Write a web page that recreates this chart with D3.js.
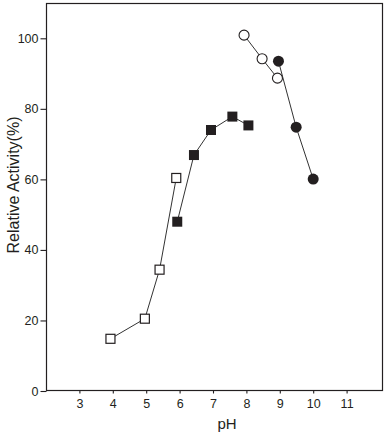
<!DOCTYPE html>
<html>
<head>
<meta charset="utf-8">
<script src="https://cdn.jsdelivr.net/npm/d3@7.9.0/dist/d3.min.js"></script>
<style>
  body { margin: 0; background: #fff; }
  svg { display: block; font-family: "Liberation Sans", Arial, sans-serif; }
</style>
</head>
<body>
<div id="chart"></div>
<script>
// pH / relative activity (%)
const openSquarePH = [3.93, 4.96, 5.40, 5.90];
const openSquareVal = [14.8, 20.5, 34.4, 60.4];
const filledSquarePH = [5.93, 6.43, 6.94, 7.58, 8.06];
const filledSquareVal = [48.0, 66.9, 74.0, 77.8, 75.3];
const openCirclePH = [7.93, 8.47, 8.93];
const openCircleVal = [100.9, 94.2, 88.7];
const filledCirclePH = [8.96, 9.49, 10.0];
const filledCircleVal = [93.5, 74.8, 60.1];
const xTicks = [3, 4, 5, 6, 7, 8, 9, 10, 11];
const yTicks = [0, 20, 40, 60, 80, 100];

const width = 386, height = 436;
const frame = { left: 46, right: 383, top: 3, bottom: 391 };
const ink = '#231f20';

const svg = d3.select('#chart').append('svg')
  .attr('width', width)
  .attr('height', height);

const xScale = d3.scaleLinear()
  .domain([2.0, 12.09])
  .range([frame.left, frame.right]);
const yScale = d3.scaleLinear()
  .domain([0, 100])
  .range([frame.bottom, frame.bottom - 352.7]);

// frame
svg.append('rect')
  .attr('x', frame.left + 0.5)
  .attr('y', frame.top + 0.5)
  .attr('width', frame.right - frame.left - 1)
  .attr('height', frame.bottom - frame.top - 1)
  .attr('fill', 'none')
  .attr('stroke', ink)
  .attr('stroke-width', 1.2);

// axes
const xAxis = svg.append('g')
  .attr('transform', `translate(0, ${frame.bottom - 0.5})`)
  .call(d3.axisBottom(xScale).tickValues(xTicks).tickSize(3).tickPadding(3).tickFormat(d3.format('d')));
const yAxis = svg.append('g')
  .attr('transform', `translate(${frame.left + 0.5}, 0)`)
  .call(d3.axisLeft(yScale).tickValues(yTicks).tickSize(6).tickPadding(2).tickFormat(d3.format('d')));

[xAxis, yAxis].forEach(ax => {
  ax.select('.domain').remove();
  ax.selectAll('line').attr('stroke', ink).attr('stroke-width', 1.1);
  ax.selectAll('text').attr('fill', ink).style('font-size', '12.5px');
});
xAxis.selectAll('text').attr('dy', '0.9em');

// axis titles
svg.append('text')
  .attr('x', 227)
  .attr('y', 429)
  .attr('text-anchor', 'middle')
  .attr('fill', ink)
  .style('font-size', '15px')
  .text('pH');
svg.append('text')
  .attr('transform', 'translate(19, 185) rotate(-90)')
  .attr('text-anchor', 'middle')
  .attr('fill', ink)
  .style('font-size', '16px')
  .text('Relative Activity(%)');

const line = d3.line()
  .x(d => xScale(d[0]))
  .y(d => yScale(d[1]));

function series(ph, vals) {
  return ph.map((p, i) => [p, vals[i]]);
}

const openSq = series(openSquarePH, openSquareVal);
const filledSq = series(filledSquarePH, filledSquareVal);
const openCi = series(openCirclePH, openCircleVal);
const filledCi = series(filledCirclePH, filledCircleVal);

const lines = svg.append('g').attr('fill', 'none').attr('stroke', '#333').attr('stroke-width', 1);
[openSq, filledSq, filledCi, openCi].forEach(s => {
  lines.append('path').attr('d', line(s));
});

const size = 10;
svg.append('g').selectAll('rect')
  .data(filledSq)
  .join('rect')
  .attr('x', d => xScale(d[0]) - size / 2)
  .attr('y', d => yScale(d[1]) - size / 2)
  .attr('width', size)
  .attr('height', size)
  .attr('fill', ink);

svg.append('g').selectAll('rect')
  .data(openSq)
  .join('rect')
  .attr('x', d => xScale(d[0]) - (size - 1) / 2)
  .attr('y', d => yScale(d[1]) - (size - 1) / 2)
  .attr('width', size - 1)
  .attr('height', size - 1)
  .attr('fill', '#fff')
  .attr('stroke', ink)
  .attr('stroke-width', 1.2);

svg.append('g').selectAll('circle')
  .data(filledCi)
  .join('circle')
  .attr('cx', d => xScale(d[0]))
  .attr('cy', d => yScale(d[1]))
  .attr('r', 5.5)
  .attr('fill', ink);

svg.append('g').selectAll('circle')
  .data(openCi)
  .join('circle')
  .attr('cx', d => xScale(d[0]))
  .attr('cy', d => yScale(d[1]))
  .attr('r', 5)
  .attr('fill', '#fff')
  .attr('stroke', ink)
  .attr('stroke-width', 1.1);
</script>
</body>
</html>
